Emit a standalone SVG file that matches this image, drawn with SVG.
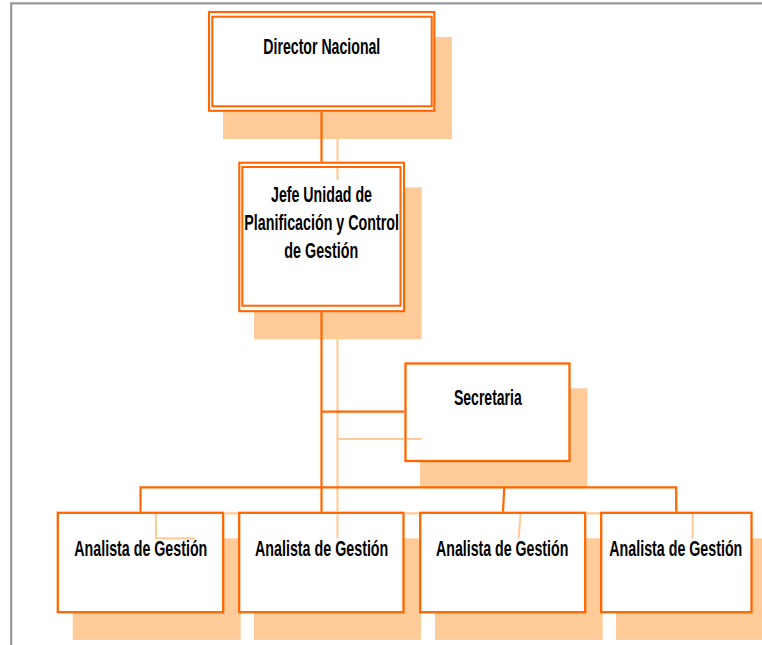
<svg xmlns="http://www.w3.org/2000/svg" width="762" height="645" viewBox="0 0 762 645">
<style>
.shadow{fill:#FFCC99;stroke:none}
.box{fill:#FFFFFF;stroke:#FF6600;stroke-width:2.3}
.dbl{fill:none;stroke:#FF6600;stroke-width:2}
.lbl{font-family:"Liberation Sans",Arial,sans-serif;font-weight:bold;font-size:14.2px;fill:#000000}
.dark{stroke:#FF6600;stroke-width:2.2;fill:none}
.light{stroke:#FFCC99;stroke-width:2.2;fill:none}
.frame{stroke:#999999;stroke-width:2.2;fill:none}
</style>
<rect x="0" y="0" width="762" height="645" fill="#FFFFFF"/>
<path class="frame" d="M11.2 645 V3.4 H762"/>

<g id="director">
<rect class="shadow" x="223" y="37" width="229" height="102"/>
<rect x="209" y="12" width="225.3" height="98.8" fill="#FFFFFF" stroke="#FF6600" stroke-width="2.1"/>
<rect class="dbl" x="212.3" y="16.7" width="219.4" height="89.6"/>
<text class="lbl" transform="translate(263.3 54.3) scale(1 1.55)" textLength="117" lengthAdjust="spacingAndGlyphs">Director Nacional</text>
</g>

<g id="jefe">
<rect class="shadow" x="254" y="187.3" width="167.7" height="152"/>
<rect x="239.3" y="162.7" width="164.7" height="148.5" fill="#FFFFFF" stroke="#FF6600" stroke-width="2.1"/>
<rect class="dbl" x="242.3" y="167" width="158.2" height="138.7"/>
<text class="lbl" transform="translate(271 201.7) scale(1 1.55)" textLength="101" lengthAdjust="spacingAndGlyphs">Jefe Unidad de</text>
<text class="lbl" transform="translate(244.3 230) scale(1 1.55)" textLength="154.7" lengthAdjust="spacingAndGlyphs">Planificación y Control</text>
<text class="lbl" transform="translate(284.3 258.3) scale(1 1.55)" textLength="74" lengthAdjust="spacingAndGlyphs">de Gestión</text>
</g>

<g id="secretaria">
<rect class="shadow" x="420" y="388.3" width="167.5" height="100"/>
<rect class="box" x="405.5" y="363.5" width="164" height="97.5"/>
<text class="lbl" transform="translate(454 405) scale(1 1.55)" textLength="67.7" lengthAdjust="spacingAndGlyphs">Secretaria</text>
</g>

<g id="analista1">
<rect class="shadow" x="72.7" y="538.3" width="168" height="101.7"/>
<rect class="box" x="57.8" y="512.8" width="165.4" height="99.4"/>
<text class="lbl" transform="translate(74.3 556) scale(1 1.55)" textLength="133" lengthAdjust="spacingAndGlyphs">Analista de Gestión</text>
</g>

<g id="analista2">
<rect class="shadow" x="254" y="538.3" width="167" height="101.7"/>
<rect class="box" x="239.2" y="512.8" width="164.3" height="99.4"/>
<text class="lbl" transform="translate(255 556) scale(1 1.55)" textLength="133.3" lengthAdjust="spacingAndGlyphs">Analista de Gestión</text>
</g>

<g id="analista3">
<rect class="shadow" x="435" y="538.3" width="167.7" height="101.7"/>
<rect class="box" x="420.2" y="512.8" width="165" height="99.4"/>
<text class="lbl" transform="translate(436 556) scale(1 1.55)" textLength="132.3" lengthAdjust="spacingAndGlyphs">Analista de Gestión</text>
</g>

<g id="analista4">
<rect class="shadow" x="616" y="538.3" width="152" height="101.7"/>
<rect class="box" x="601.2" y="512.8" width="150.3" height="99.4"/>
<text class="lbl" transform="translate(609.3 556) scale(1 1.55)" textLength="133" lengthAdjust="spacingAndGlyphs">Analista de Gestión</text>
</g>

<g id="connectors">
<!-- light (shadow) connectors -->
<path class="light" d="M337.5 139 V160.8 M337.5 168 V180"/>
<path class="light" d="M337.5 339.3 V511.5 M337.5 514.2 V538.3"/>
<path class="light" d="M337.5 439 H404 M406.8 439 H421.7"/>
<path class="light" d="M224.5 513.3 H238 M404.8 513.3 H419 M586.5 513.3 H600"/>
<path class="light" d="M156 514 V538.3 H195"/>
<path class="light" d="M520.7 514 L518.5 538.3"/>
<path class="light" d="M692.7 514 V538.3"/>
<!-- dark connectors -->
<path class="dark" d="M321.5 111.8 V161.7"/>
<path class="dark" d="M321.5 312.2 V511.8"/>
<path class="dark" d="M321.5 411.7 H404.3"/>
<path class="dark" d="M140.5 511.8 V487.3 H676.2 V511.8"/>
<path class="dark" d="M504.3 487.3 L503 511.8"/>
</g>
</svg>
